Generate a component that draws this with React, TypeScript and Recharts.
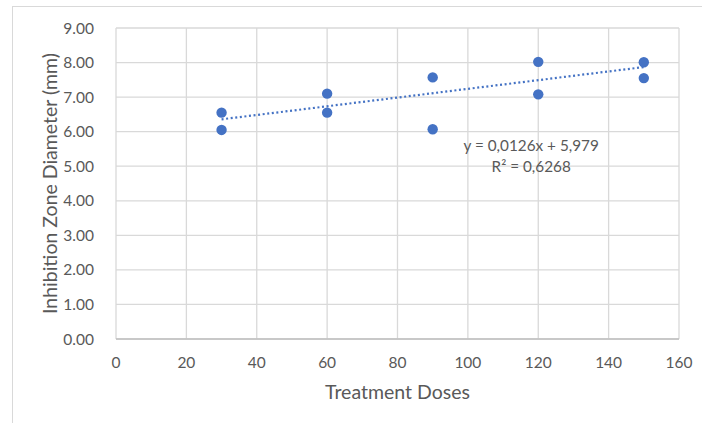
import {
  ScatterChart,
  Scatter,
  XAxis,
  YAxis,
  CartesianGrid,
  ReferenceDot,
} from 'recharts'

// doses and measured zone diameters (two replicates per dose)
const doses = [30, 30, 60, 60, 90, 90, 120, 120, 150, 150]
const diameters = [6.55, 6.05, 7.1, 6.55, 7.57, 6.07, 8.02, 7.08, 8.01, 7.55]

// linear trendline endpoints as drawn (y = 0,0126x + 5,979)
const trendX = [30, 150]
const trendY = [6.357, 7.869]

const xTicks = [0, 20, 40, 60, 80, 100, 120, 140, 160]
const yTicks = [0, 1, 2, 3, 4, 5, 6, 7, 8, 9]

const equationLines = ['y = 0,0126x + 5,979', 'R² = 0,6268']

const points = doses.map((x, i) => ({ x, y: diameters[i] }))
const trend = trendX.map((x, i) => ({ x, y: trendY[i] }))

const FONT = 'Lato, "Open Sans", "Liberation Sans", sans-serif'
const TEXT = '#595959'
const GRID = '#d9d9d9'

export default function App() {
  return (
    <div style={{ position: 'absolute', left: 0, top: 0, width: 702, height: 423, background: '#fff' }}>
      <div
        style={{
          position: 'absolute',
          left: 12,
          top: 6,
          width: 690,
          height: 417,
          borderTop: `1px solid ${GRID}`,
          borderLeft: `1px solid ${GRID}`,
          boxSizing: 'border-box',
        }}
      />
      <ScatterChart
        width={702}
        height={423}
        margin={{ top: 28, right: 23, bottom: 0, left: 0 }}
        style={{ position: 'absolute', left: 0, top: 0, fontFamily: FONT }}
      >
        <CartesianGrid stroke={GRID} strokeWidth={1.3} />
        <XAxis
          type="number"
          dataKey="x"
          domain={[0, 160]}
          ticks={xTicks}
          interval={0}
          height={84}
          axisLine={{ stroke: '#bfbfbf', strokeWidth: 1.3 }}
          tickLine={false}
          tick={{ fill: TEXT, fontSize: 15.5, fontFamily: FONT }}
          tickMargin={12}
          label={{
            value: 'Treatment Doses',
            position: 'insideBottom',
            offset: 24,
            fill: TEXT,
            fontSize: 19.5,
            fontFamily: FONT,
          }}
        />
        <YAxis
          type="number"
          dataKey="y"
          domain={[0, 9]}
          ticks={yTicks}
          interval={0}
          width={116}
          axisLine={false}
          tickLine={false}
          tick={{ fill: TEXT, fontSize: 15.5, fontFamily: FONT }}
          tickMargin={16}
          tickFormatter={(v: number) => v.toFixed(2)}
          label={{
            value: 'Inhibition Zone Diameter (mm)',
            angle: -90,
            position: 'insideLeft',
            offset: 50,
            style: { textAnchor: 'middle' },
            fill: TEXT,
            fontSize: 19.5,
            fontFamily: FONT,
          }}
        />
        <Scatter
          data={trend}
          isAnimationActive={false}
          line={{ stroke: '#4472c4', strokeWidth: 2.2, strokeDasharray: '2 2.6' }}
          shape={() => <g />}
        />
        <Scatter
          data={points}
          isAnimationActive={false}
          fill="#4472c4"
          shape={(p: any) => <circle cx={p.cx} cy={p.cy} r={5.2} fill="#4472c4" />}
        />
        <ReferenceDot
          x={118}
          y={5.43}
          r={0}
          fill="none"
          stroke="none"
          label={(props: any) => {
            const vb = props.viewBox || {}
            const cx = vb.x + (vb.width || 0) / 2
            const cy = vb.y + (vb.height || 0) / 2
            return (
              <text x={cx} y={cy} textAnchor="middle" fill={TEXT} fontSize={15.3} fontFamily={FONT}>
                <tspan x={cx} dy={0}>{equationLines[0]}</tspan>
                <tspan x={cx} dy={21}>{equationLines[1]}</tspan>
              </text>
            )
          }}
        />
      </ScatterChart>
    </div>
  )
}
